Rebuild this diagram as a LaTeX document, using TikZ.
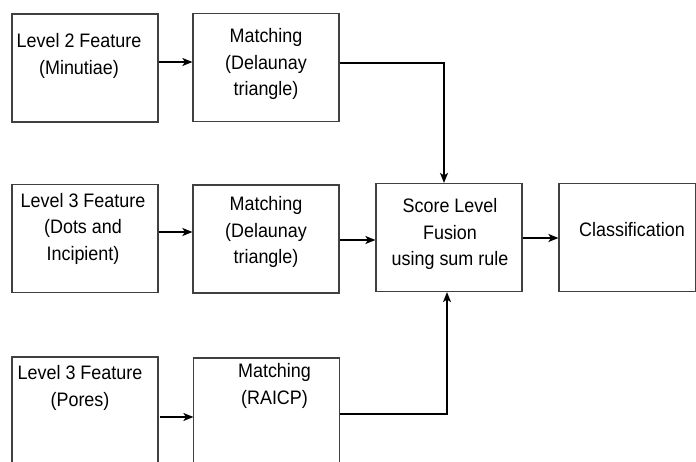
\documentclass[tikz,border=0pt]{standalone}
\usepackage{fontspec}
\setmainfont[FakeStretch=0.92]{Liberation Sans}
\usetikzlibrary{calc}
\usetikzlibrary{arrows.meta}

\begin{document}
\begin{tikzpicture}[x=1pt, y=-1pt,
  box/.style={draw=black!75, line width=1.2pt, minimum width=146pt, minimum height=108pt, inner sep=0pt},
  txt/.style={align=center, inner sep=0pt, font=\fontsize{19.5}{26.5}\selectfont},
  conn/.style={line width=1.5pt, arrows={-Stealth[length=10pt, width=8pt, inset=2.5pt]}}]
\useasboundingbox (0, 0) rectangle (696, 462);
\clip (0, 0) rectangle (696, 462);

% boxes
\node (feat2) [box] at (85, 68) {};
\node (match2) [box] at (266, 67.5) {};
\node (featdot) [box] at (85, 238.5) {};
\node (matchdot) [box] at (266, 239) {};
\node (featpore) [box] at (85, 411) {};
\node (matchpore) [box] at (266.5, 412) {};
\node (fusion) [box] at (449, 237.5) {};
\node (class) [box, minimum width=137pt] at (627.5, 237.5) {};

% texts
\node (feat2t) [txt] at ($(feat2)+(-6, -12)$) {Level 2 Feature\\(Minutiae)};
\node (match2t) [txt] at ($(match2)+(0, -3.5)$) {Matching\\(Delaunay\\triangle)};
\node (featdott) [txt] at ($(featdot)+(-2, -10)$) {Level 3 Feature\\(Dots and\\Incipient)};
\node (matchdott) [txt] at ($(matchdot)+(0, -7)$) {Matching\\(Delaunay\\triangle)};
\node (featporet) [txt] at ($(featpore)+(-5, -23)$) {Level 3 Feature\\(Pores)};
\node (matchporet) [txt] at ($(matchpore)+(8, -26)$) {Matching\\(RAICP)};
\node (fusiont) [txt] at ($(fusion)+(1, -3.5)$) {Score Level\\Fusion\\using sum rule};
\node (classt) [txt] at ($(class)+(4.5, -7.5)$) {Classification};

% connectors
\draw [conn] ($(feat2.east)+(0, -6)$) -- ($(match2.west)+(0, -5.5)$);
\draw [conn] ($(featdot.east)+(0, -6.5)$) -- ($(matchdot.west)+(0, -7)$);
\draw [conn] ($(featpore.east)+(1, 6)$) -- ($(matchpore.west)+(0.5, 5)$);
\draw [conn] ($(match2.east)+(0, -4.5)$) -| ($(fusion.north)+(-5, 0)$);
\draw [conn] ($(matchdot.east)+(0, 1)$) -- ($(fusion.west)+(0, 2.5)$);
\draw [conn] ($(matchpore.east)+(0, 2)$) -| ($(fusion.south)+(-2, 0)$);
\draw [conn] ($(fusion.east)+(0, 0.5)$) -- ($(class.west)+(0, 0.5)$);
\end{tikzpicture}
\end{document}
